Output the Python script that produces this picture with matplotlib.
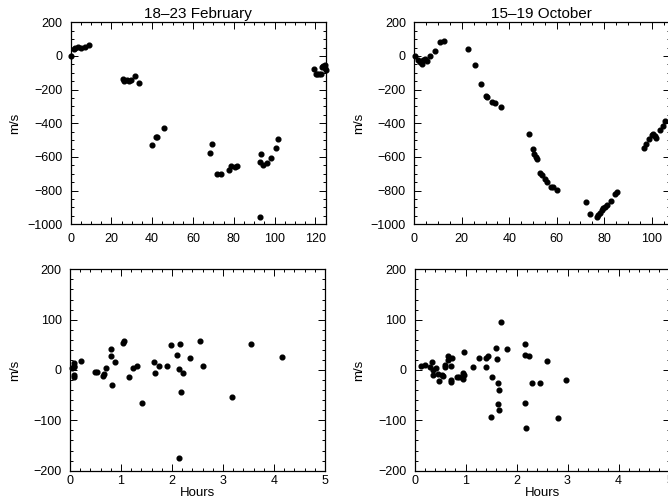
import matplotlib
matplotlib.use("Agg")
import matplotlib.pyplot as plt
from matplotlib.ticker import MultipleLocator

plt.rcParams['font.family'] = ['Liberation Sans', 'DejaVu Sans']

# ---- Data ----
feb_x = [0.0, 1.7, 2.3, 3.8, 5.2, 6.9, 9.3,
         25.6, 26.4, 27.5, 28.5, 29.5, 31.6, 33.7,
         39.8, 41.9, 42.5, 45.6,
         68.4, 69.5, 71.7, 73.6, 77.8, 78.7, 80.8, 81.6,
         93.0, 92.9, 93.2, 94.5, 96.2, 98.1, 100.7, 101.9,
         119.4, 120.2, 120.8, 121.6, 122.6, 123.3, 124.0, 124.6, 124.8, 125.0]
feb_y = [0, 42, 50, 55, 50, 55, 65,
         -135, -148, -145, -148, -140, -117, -163,
         -529, -480, -483, -430,
         -578, -523, -701, -701, -678, -652, -658, -654,
         -955, -630, -582, -648, -638, -606, -549, -493,
         -75, -105, -110, -108, -105, -65, -62, -72, -55, -85]

oct_x = [0.5, 1.7, 2.4, 3.1, 3.8, 4.5, 5.2, 6.6, 8.7, 10.8, 12.5,
         22.7, 25.6, 27.9, 30.1, 30.6, 32.8, 34.0, 36.4,
         48.3, 49.8, 50.3, 51.1, 51.7, 53.1, 53.9, 55.0, 56.0, 57.6, 58.5, 60.2,
         72.3, 74.0, 76.8, 77.5, 78.2, 78.9, 79.6, 80.3, 81.0, 82.7, 84.5, 85.2,
         96.7, 97.8, 98.8, 100.0, 100.6, 101.3, 101.8, 103.4, 104.8, 105.6]
oct_y = [0, -24, -34, -48, -24, -18, -28, 2, 31, 81, 89,
         41, -54, -169, -236, -246, -272, -277, -301,
         -462, -555, -582, -602, -614, -693, -707, -733, -747, -780, -780, -796,
         -866, -939, -959, -945, -931, -915, -905, -896, -886, -860, -820, -806,
         -545, -522, -495, -472, -462, -475, -485, -440, -416, -385]

feb_res_x = [0.03, 0.07, 0.08, 0.08, 0.08, 0.07, 0.21, 0.49, 0.52, 0.64, 0.67, 0.71,
             0.80, 0.80, 0.83, 0.89, 1.03, 1.06, 1.16, 1.24, 1.31, 1.41,
             1.65, 1.66, 1.75, 1.90, 1.99, 2.10, 2.13, 2.14, 2.16, 2.17, 2.21,
             2.35, 2.54, 2.61, 3.18, 3.54, 4.15]
feb_res_y = [3, 13, 8, -10, -13, 5, 17, -3, -3, -12, -8, 3,
             41, 28, -30, 16, 54, 58, -13, 3, 8, -65,
             15, -5, 8, 8, 50, 30, 1, -175, 52, -43, -5,
             23, 58, 8, -53, 51, 25]

oct_res_x = [0.12, 0.21, 0.31, 0.35, 0.36, 0.36, 0.42, 0.46, 0.49, 0.54, 0.56, 0.59,
             0.59, 0.65, 0.66, 0.71, 0.71, 0.72, 0.73, 0.83, 0.87, 0.95, 0.95, 0.98,
             0.98, 1.14, 1.26, 1.41, 1.41, 1.44, 1.50, 1.51, 1.59, 1.61, 1.63, 1.63,
             1.65, 1.65, 1.70, 1.82, 2.16, 2.16, 2.17, 2.18, 2.25, 2.30, 2.47, 2.60,
             2.82, 2.98]
oct_res_y = [8, 10, 5, 15, 0, -10, 3, -7, -21, -9, -12, 10,
             5, 28, 20, 8, -20, -23, 23, -13, -13, -17, -5, -10,
             35, 5, 23, 5, 23, 28, -93, -13, 44, 22, -25, -68,
             -40, -80, 95, 42, 51, -66, 30, -115, 28, -25, -25, 17,
             -95, -19]

titles = ["18–23 February", "15–19 October"]

# ---- Figure ----
fig = plt.figure(figsize=(6.68, 5.04), dpi=100)
W, H = 668.0, 504.0

def add_ax(l, r, t, b):
    return fig.add_axes([l / W, 1 - b / H, (r - l) / W, (b - t) / H])

ax_tl = add_ax(70.5, 325.5, 22.3, 224.3)
ax_tr = add_ax(414.3, 669.5, 22.3, 224.3)
ax_bl = add_ax(70.0, 325.0, 269.3, 470.7)
ax_br = add_ax(414.5, 669.5, 269.3, 470.7)

FS = 9

def style(ax, xmaj, xmin, ymaj, ymin, xpad):
    ax.xaxis.set_major_locator(MultipleLocator(xmaj))
    ax.xaxis.set_minor_locator(MultipleLocator(xmin))
    ax.yaxis.set_major_locator(MultipleLocator(ymaj))
    ax.yaxis.set_minor_locator(MultipleLocator(ymin))
    ax.tick_params(which='both', direction='in', top=True, right=True,
                   labelsize=FS, width=0.7, colors='black')
    ax.tick_params(which='major', length=5)
    ax.tick_params(which='minor', length=2.5)
    ax.tick_params(axis='x', pad=xpad)
    ax.tick_params(axis='y', pad=6)
    for s in ax.spines.values():
        s.set_linewidth(0.9)

mk = dict(marker='o', linestyle='none', color='black', markersize=3.4)

def ylab(ax, xpix):
    # place the y-label at a fixed pixel position left of the axes
    bb = ax.get_position()
    ax.yaxis.set_label_coords((xpix / W - bb.x0) / bb.width, 0.5)
    ax.set_ylabel('m/s', fontsize=FS + 0.5)

ax_tl.plot(feb_x, feb_y, **mk)
ax_tl.set_xlim(0, 125)
ax_tl.set_ylim(-1000, 200)
style(ax_tl, 20, 5, 200, 50, 6)
ax_tl.set_title(titles[0], fontsize=11, pad=3)

ax_tr.plot(oct_x, oct_y, **mk)
ax_tr.set_xlim(0, 107.5)
ax_tr.set_ylim(-1000, 200)
style(ax_tr, 20, 5, 200, 50, 6)
ax_tr.set_title(titles[1], fontsize=11, pad=3)

ax_bl.plot(feb_res_x, feb_res_y, **mk)
ax_bl.set_xlim(0, 5)
ax_bl.set_ylim(-200, 200)
style(ax_bl, 1, 0.2, 100, 20, 3)
ax_bl.set_xlabel('Hours', fontsize=FS + 0.5, labelpad=0)

ax_br.plot(oct_res_x, oct_res_y, **mk)
ax_br.set_xlim(0, 5)
ax_br.set_ylim(-200, 200)
style(ax_br, 1, 0.2, 100, 20, 3)
ax_br.set_xlabel('Hours', fontsize=FS + 0.5, labelpad=0)

ylab(ax_tl, 21)
ylab(ax_bl, 21)
ylab(ax_tr, 365)
ylab(ax_br, 365)

for ax in (ax_tl, ax_tr, ax_bl, ax_br):
    for line in ax.lines:
        line.set_clip_on(False)

fig.savefig('out.png', dpi=100)
